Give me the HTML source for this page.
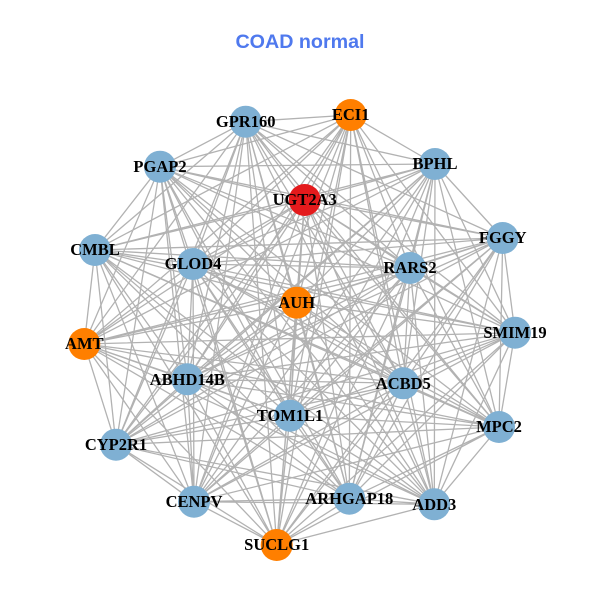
<!DOCTYPE html>
<html><head><meta charset="utf-8"><style>
html,body{margin:0;padding:0;background:#fff;width:600px;height:600px;overflow:hidden}
svg{display:block}
.n text{font:bold 16.5px "Liberation Serif",serif;text-anchor:middle;fill:#000}
</style></head><body>
<svg width="600" height="600" viewBox="0 0 600 600">
<rect width="600" height="600" fill="#fff"/>
<g fill="none" stroke="#b2b2b2" stroke-width="1.3">
<polyline points="245.7,121.7 350.7,115 245.7,121.7 435,164 245.7,121.7 502.7,238 245.7,121.7 515,332.7 245.7,121.7 499,427 245.7,121.7 434.3,504.3 245.7,121.7 349.3,498.7 245.7,121.7 276.7,545 245.7,121.7 194,501.7 245.7,121.7 116,444.7 245.7,121.7 84.3,344 245.7,121.7 95,250 245.7,121.7 160,166.7 245.7,121.7 304.7,200 245.7,121.7 193,264 245.7,121.7 410,268 245.7,121.7 296.7,302.7 245.7,121.7 187.3,379.3 245.7,121.7 403.3,383.3 245.7,121.7 290,415.7"/>
<polyline points="350.7,115 435,164 350.7,115 515,332.7 350.7,115 499,427 350.7,115 434.3,504.3 350.7,115 349.3,498.7 350.7,115 276.7,545 350.7,115 194,501.7 350.7,115 116,444.7 350.7,115 84.3,344 350.7,115 95,250 350.7,115 160,166.7 350.7,115 304.7,200 350.7,115 193,264 350.7,115 410,268 350.7,115 296.7,302.7 350.7,115 187.3,379.3 350.7,115 403.3,383.3 350.7,115 290,415.7"/>
<polyline points="435,164 502.7,238 435,164 515,332.7 435,164 499,427 435,164 434.3,504.3 435,164 349.3,498.7 435,164 276.7,545 435,164 194,501.7 435,164 116,444.7 435,164 84.3,344 435,164 95,250 435,164 160,166.7 435,164 304.7,200 435,164 193,264 435,164 410,268 435,164 296.7,302.7 435,164 187.3,379.3 435,164 403.3,383.3 435,164 290,415.7"/>
<polyline points="502.7,238 515,332.7 502.7,238 499,427 502.7,238 434.3,504.3 502.7,238 349.3,498.7 502.7,238 276.7,545 502.7,238 194,501.7 502.7,238 116,444.7 502.7,238 84.3,344 502.7,238 95,250 502.7,238 160,166.7 502.7,238 304.7,200 502.7,238 193,264 502.7,238 410,268 502.7,238 296.7,302.7 502.7,238 187.3,379.3 502.7,238 403.3,383.3 502.7,238 290,415.7"/>
<polyline points="515,332.7 499,427 515,332.7 434.3,504.3 515,332.7 349.3,498.7 515,332.7 276.7,545 515,332.7 194,501.7 515,332.7 116,444.7 515,332.7 84.3,344 515,332.7 95,250 515,332.7 160,166.7 515,332.7 304.7,200 515,332.7 193,264 515,332.7 410,268 515,332.7 296.7,302.7 515,332.7 187.3,379.3 515,332.7 403.3,383.3 515,332.7 290,415.7"/>
<polyline points="499,427 434.3,504.3 499,427 349.3,498.7 499,427 276.7,545 499,427 194,501.7 499,427 116,444.7 499,427 84.3,344 499,427 95,250 499,427 160,166.7 499,427 304.7,200 499,427 193,264 499,427 410,268 499,427 296.7,302.7 499,427 187.3,379.3 499,427 403.3,383.3 499,427 290,415.7"/>
<polyline points="434.3,504.3 349.3,498.7 434.3,504.3 276.7,545 434.3,504.3 194,501.7 434.3,504.3 116,444.7 434.3,504.3 84.3,344 434.3,504.3 95,250 434.3,504.3 160,166.7 434.3,504.3 304.7,200 434.3,504.3 193,264 434.3,504.3 410,268 434.3,504.3 296.7,302.7 434.3,504.3 187.3,379.3 434.3,504.3 403.3,383.3 434.3,504.3 290,415.7"/>
<polyline points="349.3,498.7 276.7,545 349.3,498.7 194,501.7 349.3,498.7 116,444.7 349.3,498.7 84.3,344 349.3,498.7 95,250 349.3,498.7 160,166.7 349.3,498.7 304.7,200 349.3,498.7 193,264 349.3,498.7 410,268 349.3,498.7 296.7,302.7 349.3,498.7 187.3,379.3 349.3,498.7 403.3,383.3 349.3,498.7 290,415.7"/>
<polyline points="276.7,545 194,501.7 276.7,545 116,444.7 276.7,545 84.3,344 276.7,545 95,250 276.7,545 160,166.7 276.7,545 304.7,200 276.7,545 193,264 276.7,545 410,268 276.7,545 296.7,302.7 276.7,545 187.3,379.3 276.7,545 403.3,383.3 276.7,545 290,415.7"/>
<polyline points="194,501.7 116,444.7 194,501.7 84.3,344 194,501.7 95,250 194,501.7 160,166.7 194,501.7 304.7,200 194,501.7 193,264 194,501.7 410,268 194,501.7 296.7,302.7 194,501.7 187.3,379.3 194,501.7 403.3,383.3 194,501.7 290,415.7"/>
<polyline points="116,444.7 84.3,344 116,444.7 95,250 116,444.7 160,166.7 116,444.7 304.7,200 116,444.7 193,264 116,444.7 410,268 116,444.7 296.7,302.7 116,444.7 187.3,379.3 116,444.7 403.3,383.3 116,444.7 290,415.7"/>
<polyline points="84.3,344 95,250 84.3,344 160,166.7 84.3,344 304.7,200 84.3,344 193,264 84.3,344 410,268 84.3,344 296.7,302.7 84.3,344 187.3,379.3 84.3,344 403.3,383.3 84.3,344 290,415.7"/>
<polyline points="95,250 160,166.7 95,250 304.7,200 95,250 193,264 95,250 410,268 95,250 296.7,302.7 95,250 187.3,379.3 95,250 403.3,383.3 95,250 290,415.7"/>
<polyline points="160,166.7 304.7,200 160,166.7 193,264 160,166.7 410,268 160,166.7 296.7,302.7 160,166.7 187.3,379.3 160,166.7 403.3,383.3 160,166.7 290,415.7"/>
<polyline points="304.7,200 193,264 304.7,200 410,268 304.7,200 296.7,302.7 304.7,200 187.3,379.3 304.7,200 403.3,383.3 304.7,200 290,415.7"/>
<polyline points="193,264 410,268 193,264 296.7,302.7 193,264 187.3,379.3 193,264 403.3,383.3 193,264 290,415.7"/>
<polyline points="410,268 296.7,302.7 410,268 187.3,379.3 410,268 403.3,383.3 410,268 290,415.7"/>
<polyline points="296.7,302.7 187.3,379.3 296.7,302.7 403.3,383.3 296.7,302.7 290,415.7"/>
<polyline points="187.3,379.3 403.3,383.3 187.3,379.3 290,415.7"/>
<polyline points="403.3,383.3 290,415.7"/>
</g>
<g fill="#7fb0d3">
<circle cx="245.7" cy="121.7" r="16"/>
<circle cx="435" cy="164" r="16"/>
<circle cx="502.7" cy="238" r="16"/>
<circle cx="515" cy="332.7" r="16"/>
<circle cx="499" cy="427" r="16"/>
<circle cx="434.3" cy="504.3" r="16"/>
<circle cx="349.3" cy="498.7" r="16"/>
<circle cx="194" cy="501.7" r="16"/>
<circle cx="116" cy="444.7" r="16"/>
<circle cx="95" cy="250" r="16"/>
<circle cx="160" cy="166.7" r="16"/>
<circle cx="193" cy="264" r="16"/>
<circle cx="410" cy="268" r="16"/>
<circle cx="187.3" cy="379.3" r="16"/>
<circle cx="403.3" cy="383.3" r="16"/>
<circle cx="290" cy="415.7" r="16"/>
</g>
<g fill="#ff7f00">
<circle cx="350.7" cy="115" r="16"/>
<circle cx="276.7" cy="545" r="16"/>
<circle cx="84.3" cy="344" r="16"/>
<circle cx="296.7" cy="302.7" r="16"/>
</g>
<circle cx="304.7" cy="200" r="16" fill="#e41a1c"/>
<g class="n">
<text x="245.7" y="127">GPR160</text>
<text x="350.7" y="120">ECI1</text>
<text x="435" y="169">BPHL</text>
<text x="502.7" y="243">FGGY</text>
<text x="515" y="338">SMIM19</text>
<text x="499" y="432">MPC2</text>
<text x="434.3" y="510">ADD3</text>
<text x="349.3" y="504">ARHGAP18</text>
<text x="276.7" y="550">SUCLG1</text>
<text x="194" y="507">CENPV</text>
<text x="116" y="450">CYP2R1</text>
<text x="84.3" y="349">AMT</text>
<text x="95" y="255">CMBL</text>
<text x="160" y="172">PGAP2</text>
<text x="304.7" y="205">UGT2A3</text>
<text x="193" y="269">GLOD4</text>
<text x="410" y="273">RARS2</text>
<text x="296.7" y="308">AUH</text>
<text x="187.3" y="385">ABHD14B</text>
<text x="403.3" y="389">ACBD5</text>
<text x="290" y="421">TOM1L1</text>
</g>
<text x="300" y="48" text-anchor="middle" font-family="'Liberation Sans',sans-serif" font-weight="bold" font-size="19.7" fill="#4f79ee">COAD normal</text>
</svg>
</body></html>
